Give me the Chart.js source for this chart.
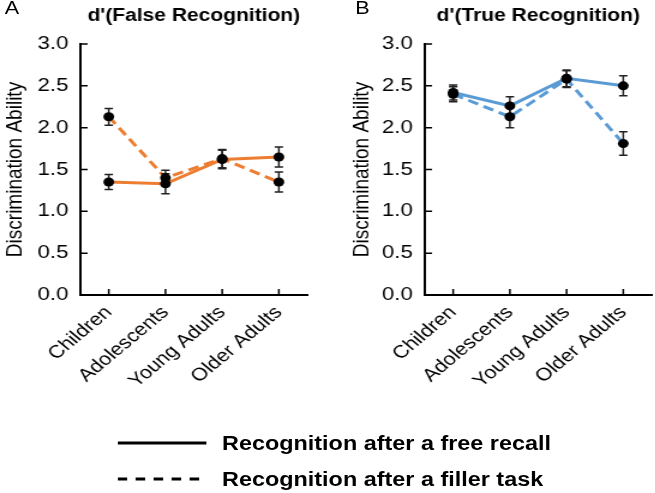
<!DOCTYPE html>
<html>
<head>
<meta charset="utf-8">
<script src="https://cdn.jsdelivr.net/npm/chart.js@4.4.0/dist/chart.umd.min.js"></script>
<style>
  body { margin: 0; background: #fff; font-family: "Liberation Sans", Arial, sans-serif; overflow: hidden; }
  /* the source figure is stretched sideways by about 1.2, so is this one */
  #wrap { position: relative; width: 546px; height: 493px; transform: scaleX(1.2); transform-origin: 0 0; }
  .box { position: absolute; top: 0; height: 410px; }
  .letter { position: absolute; top: -2px; font-size: 18px; color: #000; }
  .leg { position: absolute; left: 98px; font-size: 19.5px; font-weight: bold; color: #000; }
  .leg svg { position: absolute; left: 0; top: 0; }
  .leg span { position: absolute; left: 87px; top: 0; white-space: nowrap; line-height: 22px; }
</style>
</head>
<body>
<div id="wrap">
  <div class="box" style="left:0;width:272px"><canvas id="chartA"></canvas></div>
  <div class="box" style="left:289px;width:257px"><canvas id="chartB"></canvas></div>
  <div class="letter" style="left:4px">A</div>
  <div class="letter" style="left:296px">B</div>
  <div class="leg" style="top:432px">
    <svg width="76" height="22"><line x1="0" y1="11" x2="74" y2="11" stroke="#000" stroke-width="3"/></svg>
    <span>Recognition after a free recall</span>
  </div>
  <div class="leg" style="top:468px">
    <svg width="76" height="22"><line x1="0" y1="11" x2="70" y2="11" stroke="#000" stroke-width="3" stroke-dasharray="8,7"/></svg>
    <span>Recognition after a filler task</span>
  </div>
</div>
<script>
var categories = ['Children', 'Adolescents', 'Young Adults', 'Older Adults'];

// d'(False Recognition)
var falseRecall = [1.35, 1.33, 1.62, 1.65];
var falseRecallErr = [0.09, 0.12, 0.11, 0.12];
var falseFiller = [2.13, 1.40, 1.63, 1.35];
var falseFillerErr = [0.10, 0.09, 0.11, 0.12];

// d'(True Recognition)
var trueRecall = [2.42, 2.26, 2.59, 2.50];
var trueRecallErr = [0.09, 0.11, 0.10, 0.12];
var trueFiller = [2.40, 2.13, 2.58, 1.81];
var trueFillerErr = [0.09, 0.13, 0.10, 0.14];

var yMin = 0, yMax = 3, yStep = 0.5;

var FONT = '"Liberation Sans", Arial, sans-serif';
var orange = 'rgb(237,125,49)';
var blue = 'rgb(91,155,213)';

// error bars, then the points on top
var errorBars = {
    id: 'errorBars',
    afterDatasetsDraw: function(chart) {
        var ctx = chart.ctx;
        var y = chart.scales.y;
        ctx.save();
        ctx.strokeStyle = '#222';
        ctx.lineWidth = 1.5;
        chart.data.datasets.forEach(function(ds, di) {
            var meta = chart.getDatasetMeta(di);
            meta.data.forEach(function(pt, i) {
                var top = y.getPixelForValue(ds.data[i] + ds.errors[i]);
                var bot = y.getPixelForValue(ds.data[i] - ds.errors[i]);
                ctx.beginPath();
                ctx.moveTo(pt.x, top); ctx.lineTo(pt.x, bot);
                ctx.moveTo(pt.x - 3.5, top); ctx.lineTo(pt.x + 3.5, top);
                ctx.moveTo(pt.x - 3.5, bot); ctx.lineTo(pt.x + 3.5, bot);
                ctx.stroke();
            });
        });
        chart.data.datasets.forEach(function(ds, di) {
            var meta = chart.getDatasetMeta(di);
            meta.data.forEach(function(pt) {
                ctx.beginPath();
                ctx.fillStyle = '#000';
                ctx.arc(pt.x, pt.y, 4.5, 0, Math.PI * 2);
                ctx.fill();
            });
        });
        ctx.restore();
    }
};

// tick marks pointing into the plot
var innerTicks = {
    id: 'innerTicks',
    afterDraw: function(chart) {
        var ctx = chart.ctx, a = chart.chartArea;
        var x = chart.scales.x, y = chart.scales.y;
        ctx.save();
        ctx.strokeStyle = '#000';
        ctx.lineWidth = 1.5;
        ctx.beginPath();
        y.ticks.forEach(function(t, i) {
            var py = y.getPixelForTick(i);
            ctx.moveTo(a.left, py); ctx.lineTo(a.left + 6, py);
        });
        x.ticks.forEach(function(t, i) {
            var px = x.getPixelForTick(i);
            ctx.moveTo(px, a.bottom); ctx.lineTo(px, a.bottom - 6);
        });
        ctx.stroke();
        ctx.restore();
    }
};

function makeChart(id, title, color, recall, recallErr, filler, fillerErr, yWidth, rightPad) {
    var ctx = document.getElementById(id).getContext('2d');
    return new Chart(ctx, {
        type: 'line',
        data: {
            labels: categories,
            datasets: [{
                label: 'Recognition after a free recall',
                data: recall,
                errors: recallErr,
                borderColor: color,
                borderWidth: 3,
                pointRadius: 0,
                tension: 0
            }, {
                label: 'Recognition after a filler task',
                data: filler,
                errors: fillerErr,
                borderColor: color,
                borderWidth: 3,
                borderDash: [9, 5],
                pointRadius: 0,
                tension: 0
            }]
        },
        options: {
            responsive: true,
            maintainAspectRatio: false,
            animation: false,
            layout: { padding: { left: 0, right: rightPad, top: 0, bottom: 0 } },
            plugins: {
                legend: { display: false },
                tooltip: { enabled: false },
                title: {
                    display: true,
                    text: title,
                    fullSize: false,
                    color: '#000',
                    font: { family: FONT, size: 17.5, weight: 'bold' },
                    padding: { top: 6, bottom: 17 }
                }
            },
            scales: {
                x: {
                    offset: true,
                    grid: { display: true, drawOnChartArea: false, drawTicks: false, offset: false },
                    border: { color: '#000', width: 2 },
                    ticks: {
                        color: '#000',
                        minRotation: 45,
                        maxRotation: 45,
                        padding: 7,
                        font: { family: FONT, size: 18 }
                    },
                    afterFit: function(s) { s.height = 115; }
                },
                y: {
                    min: yMin,
                    max: yMax,
                    grid: { display: true, drawOnChartArea: false, drawTicks: false },
                    border: { color: '#000', width: 2 },
                    ticks: {
                        stepSize: yStep,
                        color: '#000',
                        padding: 10,
                        font: { family: FONT, size: 18.5 },
                        callback: function(v) { return v.toFixed(1); }
                    },
                    title: {
                        display: true,
                        text: 'Discrimination Ability',
                        color: '#000',
                        font: { family: FONT, size: 19 },
                        padding: { top: 1, bottom: 1 }
                    },
                    afterFit: function(s) { s.width = yWidth; }
                }
            }
        },
        plugins: [errorBars, innerTicks]
    });
}

makeChart('chartA', "d'(False Recognition)", orange,
    falseRecall, falseRecallErr, falseFiller, falseFillerErr, 67, 16);
makeChart('chartB', "d'(True Recognition)", blue,
    trueRecall, trueRecallErr, trueFiller, trueFillerErr, 65, 3);
</script>
</body>
</html>
